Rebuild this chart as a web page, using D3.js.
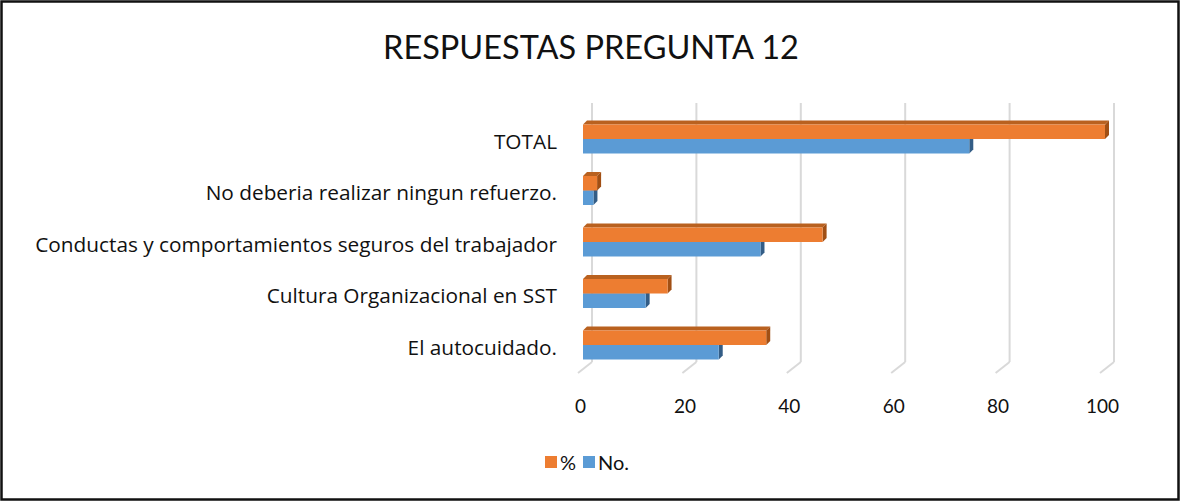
<!DOCTYPE html>
<html>
<head>
<meta charset="utf-8">
<script src="https://cdn.jsdelivr.net/npm/d3@7"></script>
<style>
  html, body { margin: 0; padding: 0; background: #fff; }
  svg { display: block; font-family: "Open Sans", "Liberation Sans", sans-serif; }
</style>
</head>
<body>
<div id="chart"></div>
<script>
// data, bottom to top as in the sheet
const categories = ["El autocuidado.", "Cultura Organizacional en SST", "Conductas y comportamientos seguros del trabajador", "No deberia realizar ningun refuerzo.", "TOTAL"];
const countValues = [26, 12, 34, 2, 74];
const pctValues = [35.1, 16.2, 45.9, 2.7, 100];
const seriesNames = ["%", "No."];
const xTicks = [0, 20, 40, 60, 80, 100];
const title = "RESPUESTAS PREGUNTA 12";

const width = 1180, height = 502;
const colors = {
  "%": {front: "#ed7d31", top: "#b9611f", side: "#a14f14"},
  "No.": {front: "#5b9bd5", top: "#3f70a0", side: "#335d86"}
};
const depth = {dx: 4, dy: -4};     // bar depth
const wall = {dx: 14, dy: -11};    // back wall offset

const svg = d3.select("#chart").append("svg")
  .attr("width", width)
  .attr("height", height);

// frame
svg.append("rect")
  .attr("x", 1.5).attr("y", 1.5)
  .attr("width", width - 3).attr("height", height - 4)
  .attr("fill", "#fff")
  .attr("stroke", "#111")
  .attr("stroke-width", 2.5);

// title
svg.append("text")
  .attr("x", 591).attr("y", 59)
  .attr("text-anchor", "middle")
  .attr("font-family", "Lato, 'Liberation Sans', sans-serif")
  .attr("font-size", 32.5)
  .attr("fill", "#111")
  .text(title);

// scales
const x = d3.scaleLinear().domain([0, 100]).range([583, 1105]);
const y = d3.scaleBand()
  .domain(categories.slice().reverse())
  .range([102, 382])
  .padding(0.437);
const ySub = d3.scaleBand().domain(seriesNames).range([0, y.bandwidth()]);

// back wall gridlines + floor diagonals
const floorY = 373;
const grid = svg.append("g").attr("class", "grid");
grid.selectAll(".gl")
  .data(xTicks)
  .enter().append("line")
    .attr("class", "gl")
    .attr("x1", d => x(d) - 5 + wall.dx).attr("x2", d => x(d) - 5 + wall.dx)
    .attr("y1", 103).attr("y2", floorY + wall.dy)
    .attr("stroke", "#d9d9d9").attr("stroke-width", 2);
grid.selectAll(".fl")
  .data(xTicks)
  .enter().append("line")
    .attr("class", "fl")
    .attr("x1", d => x(d) - 5).attr("y1", floorY)
    .attr("x2", d => x(d) - 5 + wall.dx).attr("y2", floorY + wall.dy)
    .attr("stroke", "#d9d9d9").attr("stroke-width", 2);

// x axis labels
const xAxis = d3.axisBottom(x).tickValues(xTicks).tickSize(0).tickPadding(0);
svg.append("g")
  .attr("class", "x axis")
  .attr("transform", "translate(-3," + 413 + ")")
  .call(xAxis)
  .call(g => g.select(".domain").remove())
  .call(g => g.selectAll("text")
    .attr("dy", 0)
    .attr("font-size", 19)
    .attr("font-family", "Lato, 'Liberation Sans', sans-serif")
    .attr("fill", "#111"));

// y axis labels
const yAxis = d3.axisLeft(y).tickSize(0).tickPadding(0);
svg.append("g")
  .attr("class", "y axis")
  .attr("transform", "translate(557,3)")
  .call(yAxis)
  .call(g => g.select(".domain").remove())
  .call(g => g.selectAll("text")
    .attr("font-size", 20.8)
    .attr("font-family", "'Open Sans', 'Liberation Sans', sans-serif")
    .attr("fill", "#111"));

// bars: No. first, % on top of it
const rows = categories.map((c, i) => ({cat: c, "%": pctValues[i], "No.": countValues[i]}));
const drawOrder = ["No.", "%"];

drawOrder.forEach(s => {
  const g = svg.append("g").attr("class", "series");
  rows.forEach(r => {
    const x0 = x(0), x1 = x(r[s]);
    const y0 = y(r.cat) + ySub(s), h = ySub.bandwidth();
    // top face
    g.append("path")
      .attr("d", `M${x0},${y0} L${x0 + depth.dx},${y0 + depth.dy} L${x1 + depth.dx},${y0 + depth.dy} L${x1},${y0} Z`)
      .attr("fill", colors[s].top);
    // end face
    g.append("path")
      .attr("d", `M${x1},${y0} L${x1 + depth.dx},${y0 + depth.dy} L${x1 + depth.dx},${y0 + h + depth.dy} L${x1},${y0 + h} Z`)
      .attr("fill", colors[s].side);
    // front face
    g.append("rect")
      .attr("x", x0).attr("y", y0)
      .attr("width", x1 - x0).attr("height", h)
      .attr("fill", colors[s].front);
  });
});

// legend
const legend = svg.append("g").attr("class", "legend").attr("transform", "translate(545,456)");
const legendPos = [0, 38];
seriesNames.forEach((s, i) => {
  legend.append("rect")
    .attr("x", legendPos[i]).attr("y", 0)
    .attr("width", 12).attr("height", 12)
    .attr("fill", colors[s].front);
  legend.append("text")
    .attr("x", legendPos[i] + 15).attr("y", 14)
    .attr("font-family", "Lato, 'Liberation Sans', sans-serif")
    .attr("font-size", 20)
    .attr("fill", "#111")
    .text(s);
});
</script>
</body>
</html>
